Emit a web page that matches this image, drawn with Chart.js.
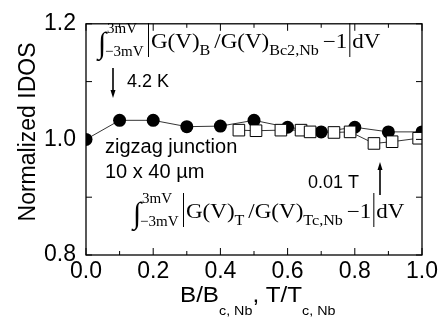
<!DOCTYPE html>
<html>
<head>
<meta charset="utf-8">
<script src="https://cdn.jsdelivr.net/npm/chart.js@4/dist/chart.umd.min.js"></script>
<style>
  html, body { margin: 0; padding: 0; background: #fff; }
  canvas { display: block; }
</style>
</head>
<body>
<canvas id="idos" width="443" height="328"></canvas>
<script>
// field sweep at 4.2 K (filled circles)
const fieldX = [0.0, 0.1, 0.2, 0.3, 0.4, 0.5, 0.6, 0.7, 0.8, 0.9, 1.0];
const fieldIdos = [1.000, 1.033, 1.033, 1.022, 1.023, 1.033, 1.021, 1.013, 1.021, 1.013, 1.013];

// temperature sweep at 0.01 T (open squares)
const tempX = [0.455, 0.506, 0.580, 0.640, 0.667, 0.738, 0.786, 0.857, 0.911, 0.990];
const tempIdos = [1.016, 1.015, 1.016, 1.016, 1.013, 1.012, 1.013, 0.993, 0.996, 1.002];

const xTicks = [0.0, 0.2, 0.4, 0.6, 0.8, 1.0];
const xMinor = [0.1, 0.3, 0.5, 0.7, 0.9];
const yTicks = [0.8, 1.0, 1.2];
const yMinor = [0.9, 1.1];

const SANS = '"Liberation Sans", Arial, sans-serif';
const SERIF = '"Liberation Serif", "Times New Roman", serif';

function line(ctx, x1, y1, x2, y2) {
  ctx.beginPath();
  ctx.moveTo(x1, y1);
  ctx.lineTo(x2, y2);
  ctx.stroke();
}

// draws a run of text pieces left to right, sub/superscripts via dy
function textRun(ctx, x, yb, parts, sx) {
  parts.forEach((p) => {
    if (p.bar) {
      ctx.lineWidth = 1;
      line(ctx, x + 1.5, yb - 25, x + 1.5, yb + 9);
      x += 4;
      return;
    }
    ctx.font = `${p.size}px ${p.family || SERIF}`;
    ctx.save();
    ctx.translate(x, yb + (p.dy || 0));
    ctx.scale(sx, 1);
    ctx.fillText(p.text, 0, 0);
    ctx.restore();
    x += ctx.measureText(p.text).width * sx + (p.gap || 0);
  });
}

function drawIntegral(ctx, x, yb, sub1, sub2) {
  ctx.font = `30px ${SERIF}`;
  ctx.fillText('∫', x - 2, yb + 5);
  ctx.font = `15px ${SERIF}`;
  ctx.fillText('3mV', x + 7, yb - 15);
  ctx.fillText('−3mV', x + 5, yb + 8);
  textRun(ctx, x + 47, yb, [
    { bar: true },
    { text: 'G(V)', size: 20 },
    { text: sub1, size: 14, dy: 7, gap: 4 },
    { text: '/G(V)', size: 20 },
    { text: sub2, size: 14, dy: 7, gap: 4 },
    { text: '−1', size: 20, gap: 1 },
    { bar: true },
    { text: 'dV', size: 20 },
  ], 1.15);
}

function arrow(ctx, x, yFrom, yTo) {
  const dir = yTo > yFrom ? 1 : -1;
  ctx.lineWidth = 1.6;
  line(ctx, x, yFrom, x, yTo - dir * 6);
  ctx.beginPath();
  ctx.moveTo(x - 2.5, yTo - dir * 8);
  ctx.lineTo(x + 2.5, yTo - dir * 8);
  ctx.lineTo(x, yTo);
  ctx.closePath();
  ctx.fill();
}

const decorations = {
  id: 'decorations',
  afterDraw(chart) {
    const { ctx, chartArea: a } = chart;
    const xs = chart.scales.x;
    const ys = chart.scales.y;
    ctx.save();
    ctx.strokeStyle = '#000';
    ctx.fillStyle = '#000';

    // frame and inward ticks
    ctx.lineWidth = 1.3;
    ctx.strokeRect(a.left, a.top, a.right - a.left, a.bottom - a.top);
    ctx.lineWidth = 1;
    xTicks.concat(xMinor).forEach((v) => {
      const px = xs.getPixelForValue(v);
      const len = xMinor.includes(v) ? 4 : 7;
      line(ctx, px, a.bottom, px, a.bottom - len);
      line(ctx, px, a.top, px, a.top + len);
    });
    yTicks.concat(yMinor).forEach((v) => {
      const py = ys.getPixelForValue(v);
      line(ctx, a.left, py, a.left + 6, py);
      line(ctx, a.right, py, a.right - 6, py);
    });

    // axis titles
    ctx.textBaseline = 'alphabetic';
    ctx.textAlign = 'left';
    textRun(ctx, 180, 302, [
      { text: 'B/B', size: 22, family: SANS },
      { text: 'c, Nb', size: 13, family: SANS, dy: 13 },
      { text: ',', size: 22, family: SANS },
      { text: ' T/T', size: 22, family: SANS },
      { text: 'c, Nb', size: 13, family: SANS, dy: 13 },
    ], 1.1);

    ctx.save();
    ctx.translate(29, 132);
    ctx.rotate(-Math.PI / 2);
    ctx.textAlign = 'center';
    ctx.textBaseline = 'middle';
    ctx.font = `23px ${SANS}`;
    ctx.fillText('Normalized IDOS', 0, 0);
    ctx.restore();

    // annotations
    drawIntegral(ctx, 100, 48, 'B', 'Bc2,Nb');
    drawIntegral(ctx, 135, 218, 'T', 'Tc,Nb');

    ctx.font = `18px ${SANS}`;
    ctx.fillText('4.2 K', 127, 87);
    ctx.fillText('0.01 T', 308, 188);
    ctx.font = `20px ${SANS}`;
    ctx.fillText('zigzag junction', 105, 153);
    ctx.fillText('10 x 40 µm', 105, 178);

    arrow(ctx, 113, 68, 98);
    arrow(ctx, 380, 195, 162);
    ctx.restore();
  },
};

const tickFont = { family: SANS, size: 23 };

new Chart(document.getElementById('idos'), {
  type: 'scatter',
  data: {
    datasets: [
      {
        label: 'T / Tc,Nb',
        data: tempX.map((x, i) => ({ x, y: tempIdos[i] })),
        showLine: true,
        borderColor: '#000',
        borderWidth: 0.8,
        pointStyle: 'rect',
        pointRadius: 8.2,
        pointBackgroundColor: '#fff',
        pointBorderColor: '#000',
        pointBorderWidth: 1,
        clip: 0,
        order: 0,
      },
      {
        label: 'B / Bc,Nb',
        data: fieldX.map((x, i) => ({ x, y: fieldIdos[i] })),
        showLine: true,
        borderColor: '#000',
        borderWidth: 0.8,
        pointRadius: 6.5,
        pointBackgroundColor: '#000',
        pointBorderColor: '#000',
        pointBorderWidth: 0,
        clip: 0,
        order: 1,
      },
    ],
  },
  options: {
    responsive: false,
    animation: false,
    events: [],
    layout: { padding: { top: 14, right: 21, left: 0, bottom: 0 } },
    plugins: { legend: { display: false }, tooltip: { enabled: false } },
    scales: {
      x: {
        type: 'linear',
        min: 0,
        max: 1,
        afterBuildTicks: (s) => { s.ticks = xTicks.map((v) => ({ value: v })); },
        afterFit: (s) => { s.height = 73; },
        ticks: {
          font: tickFont,
          color: '#000',
          padding: 3,
          maxRotation: 0,
          autoSkip: false,
          callback: (v) => Number(v).toFixed(1),
        },
        grid: { display: false, drawTicks: false },
        border: { display: false },
      },
      y: {
        min: 0.8,
        max: 1.2,
        afterBuildTicks: (s) => { s.ticks = yTicks.map((v) => ({ value: v })); },
        afterFit: (s) => { s.width = 86; },
        ticks: {
          font: tickFont,
          color: '#000',
          padding: 10,
          callback: (v) => Number(v).toFixed(1),
        },
        grid: { display: false, drawTicks: false },
        border: { display: false },
      },
    },
  },
  plugins: [decorations],
});
</script>
</body>
</html>
